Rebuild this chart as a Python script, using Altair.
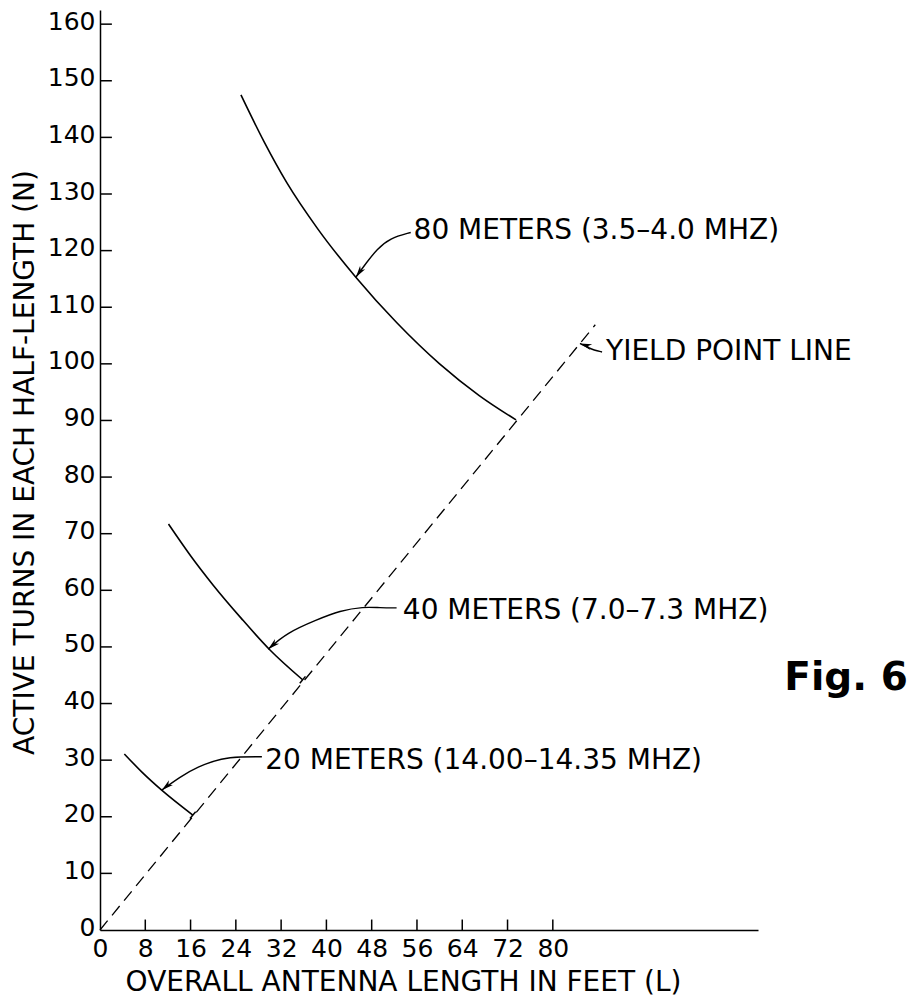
import altair as alt
import pandas as pd

# ---- data ----
x_ticks = [0, 8, 16, 24, 32, 40, 48, 56, 64, 72, 80]
y_ticks = [0, 10, 20, 30, 40, 50, 60, 70, 80, 90, 100, 110, 120, 130, 140, 150, 160]

band_80_L = [24.9, 29.0, 33.0, 38.5, 45.2, 52.4, 60.0, 67.0, 73.5]
band_80_N = [147.5, 139.2, 132.0, 123.8, 115.3, 107.3, 100.0, 94.4, 90.1]
band_40_L = [12.1, 16.0, 20.0, 25.0, 29.9, 35.8]
band_40_N = [71.7, 66.1, 60.9, 55.0, 49.6, 44.2]
band_20_L = [4.3, 7.5, 10.9, 16.4]
band_20_N = [31.1, 27.8, 24.7, 20.3]

yield_L = [0, 87.5]
yield_N = [0, 106.9]

end_tick_L = [35.3, 15.9]
end_tick_N = [43.6, 19.7]
end_tick_L2 = [36.3, 16.9]
end_tick_N2 = [44.8, 20.9]

lead_80_L = [54.9, 51.2, 48.9, 47.1, 45.2]
lead_80_N = [123.2, 122.2, 120.2, 117.9, 115.3]
lead_40_L = [52.4, 49.5, 46.5, 42.4, 38.3, 33.0, 29.7]
lead_40_N = [56.9, 56.9, 57.1, 56.4, 54.8, 52.5, 49.6]
lead_20_L = [28.6, 24.7, 21.7, 17.1, 14.1, 10.9]
lead_20_N = [30.6, 30.6, 30.4, 28.8, 27.0, 24.7]
lead_yield_L = [88.7, 87.3, 86.0, 84.8]
lead_yield_N = [102.1, 102.4, 103.0, 103.6]

arrow_L = [45.2, 29.7, 10.9, 84.8]
arrow_N = [115.3, 49.6, 24.7, 103.6]
arrow_angle = [215, 229, 231, 288]

label_text = ["80 METERS (3.5–4.0 MHZ)", "40 METERS (7.0–7.3 MHZ)",
              "20 METERS (14.00–14.35 MHZ)", "YIELD POINT LINE"]
label_L = [55.4, 53.5, 29.2, 89.4]
label_N = [123.5, 56.4, 29.9, 102.1]

fig_text = ["Fig. 6"]
fig_L = [120.9]
fig_N = [44.5]

FONT = "DejaVu Sans"

# ---- tables ----
curves = pd.concat([
    pd.DataFrame({"L": band_80_L, "N": band_80_N, "band": "80"}),
    pd.DataFrame({"L": band_40_L, "N": band_40_N, "band": "40"}),
    pd.DataFrame({"L": band_20_L, "N": band_20_N, "band": "20"}),
])
yield_df = pd.DataFrame({"L": yield_L, "N": yield_N})
ends_df = pd.DataFrame({"L": end_tick_L, "N": end_tick_N, "L2": end_tick_L2, "N2": end_tick_N2})

leads = []
for name, Ls, Ns in [("80", lead_80_L, lead_80_N), ("40", lead_40_L, lead_40_N),
                     ("20", lead_20_L, lead_20_N), ("y", lead_yield_L, lead_yield_N)]:
    leads.append(pd.DataFrame({"L": Ls, "N": Ns, "id": name, "i": list(range(len(Ls)))}))
leads = pd.concat(leads)
arrows = pd.DataFrame({"L": arrow_L, "N": arrow_N, "ang": arrow_angle})
labels = pd.DataFrame({"L": label_L, "N": label_N, "t": label_text})
figdf = pd.DataFrame({"L": fig_L, "N": fig_N, "t": fig_text})
xt = pd.DataFrame({"L": x_ticks[1:], "N": 0.0, "N2": 1.85})
yt = pd.DataFrame({"N": y_ticks[1:], "L": 0.0, "L2": 2.1})

xs = alt.Scale(domain=[0, 116.25], nice=False, zero=False)
ys = alt.Scale(domain=[0, 162.5], nice=False, zero=False)

xaxis = alt.Axis(values=x_ticks, ticks=False, grid=False, labelFont=FONT, labelFontSize=25,
                 labelColor="black", labelPadding=6, labelFlush=False, labelOverlap=False,
                 domainColor="black", domainWidth=1.5,
                 title="OVERALL ANTENNA LENGTH IN FEET (L)", titleFont=FONT, titleFontSize=28,
                 titleFontWeight="normal", titleColor="black", titleX=303, titleY=52,
                 titleAlign="center", titleBaseline="middle")
yaxis = alt.Axis(values=y_ticks, ticks=False, grid=False, labelFont=FONT, labelFontSize=25,
                 labelColor="black", labelPadding=5, labelOffset=-3, labelFlush=False,
                 labelOverlap=False, domainColor="black", domainWidth=1.5,
                 title="ACTIVE TURNS IN EACH HALF-LENGTH (N)", titleFont=FONT, titleFontSize=28,
                 titleFontWeight="normal", titleColor="black", titleX=-75, titleY=452,
                 titleAngle=270, titleAlign="center", titleBaseline="middle")

X = alt.X("L:Q", scale=xs, axis=xaxis)
Y = alt.Y("N:Q", scale=ys, axis=yaxis)

base_curves = alt.Chart(curves).mark_line(color="black", strokeWidth=1.6, interpolate="monotone").encode(
    x=X, y=Y, detail="band:N",
)

yield_line = alt.Chart(yield_df).mark_line(color="black", strokeWidth=1.3, strokeDash=[12, 7]).encode(
    x=X, y=Y,
)

end_ticks = alt.Chart(ends_df).mark_rule(color="black", strokeWidth=1.5).encode(
    x=X, y=Y, x2="L2:Q", y2="N2:Q",
)

x_tick_marks = alt.Chart(xt).mark_rule(color="black", strokeWidth=1.5).encode(
    x=X, y=Y, y2="N2:Q",
)
y_tick_marks = alt.Chart(yt).mark_rule(color="black", strokeWidth=1.5).encode(
    y=Y, x=X, x2="L2:Q",
)

leaders = alt.Chart(leads).mark_line(color="black", strokeWidth=1.4, interpolate="basis").encode(
    x=X, y=Y, detail="id:N", order="i:Q",
)

heads = alt.Chart(arrows).mark_point(
    shape="M0,0L-0.42,1.6L0,1.15L0.42,1.6Z", filled=True, size=220,
    color="black", opacity=1, strokeWidth=0,
).encode(
    x=X, y=Y, angle=alt.Angle("ang:Q", scale=None),
)

texts = alt.Chart(labels).mark_text(align="left", baseline="middle", font=FONT, fontSize=28,
                                    color="black").encode(
    x=X, y=Y, text="t:N",
)

fig = alt.Chart(figdf).mark_text(align="left", baseline="middle", font=FONT, fontSize=39,
                                 fontWeight="bold", color="black").encode(
    x=X, y=Y, text="t:N",
)

chart = alt.layer(
    base_curves, yield_line, end_ticks, x_tick_marks, y_tick_marks, leaders, heads, texts, fig
).properties(
    width=658, height=920,
    autosize=alt.AutoSizeParams(type="none"),
    padding={"left": 92, "top": 2, "right": 151, "bottom": 67},
    background="white",
).configure_view(stroke=None)

chart.save("out.html", embed_options={"renderer": "svg", "actions": False})
